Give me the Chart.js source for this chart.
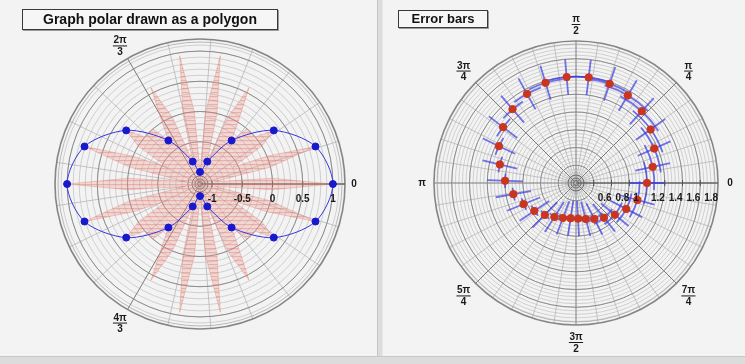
<!DOCTYPE html>
<html><head><meta charset="utf-8">
<script src="https://cdn.jsdelivr.net/npm/chart.js@4/dist/chart.umd.min.js"></script>
<style>
html,body{margin:0;padding:0}
body{width:745px;height:364px;background:#f3f3f3;position:relative;overflow:hidden;font-family:"Liberation Sans",Arial,sans-serif}
#c1{position:absolute;left:0;top:0}
#c2{position:absolute;left:383px;top:0}
#sep{position:absolute;left:377px;top:0;width:6px;height:364px;background:#dcdcdc;box-sizing:border-box;border-left:1px solid #c4c4c4;border-right:1px solid #e6e6e6}
#bot{position:absolute;left:0;top:356px;width:745px;height:8px;background:#dcdcdc;border-top:1px solid #c8c8c8;box-sizing:border-box}
.ttl{position:absolute;box-sizing:border-box;border:1px solid #3a3a3a;background:#f6f6f6;font-weight:bold;color:#111;text-align:center;box-shadow:1px 1px 0 #9a9a9a;white-space:nowrap}
#t1{left:22px;top:9px;width:256px;height:21px;font-size:14px;line-height:19px}
#t2{left:398px;top:10px;width:90px;height:18px;font-size:13px;line-height:16px}
</style></head>
<body>
<canvas id="c1" width="377" height="356"></canvas>
<canvas id="c2" width="362" height="356"></canvas>
<div id="sep"></div><div id="bot"></div>
<div class="ttl" id="t1">Graph polar drawn as a polygon</div>
<div class="ttl" id="t2">Error bars</div>
<script>
// ---------- left pad: polygon ----------
const leftRange = [-1.2, 1.2];
const leftRadialTicks = [-1, -0.5, 0, 0.5, 1];
const leftRadialLabels = ['-1', '-0.5', '0', '0.5', '1'];
const leftAngleLabels = [
  {a: 0, t: '0'},
  {a: 120, n: '2\u03c0', d: '3'},
  {a: 240, n: '4\u03c0', d: '3'}
];
const petalStepDeg = 4.5;
const petalValues = [
  1, 0, -0.95, 0, 0.81, 0, -0.59, 0, 0.31, 0,
  0, 0, -0.31, 0, 0.59, 0, -0.81, 0, 0.95, 0,
  -1, 0, 0.95, 0, -0.81, 0, 0.59, 0, -0.31, 0,
  0, 0, 0.31, 0, -0.59, 0, 0.81, 0, -0.95, 0,
  1, 0, -0.95, 0, 0.81, 0, -0.59, 0, 0.31, 0,
  0, 0, -0.31, 0, 0.59, 0, -0.81, 0, 0.95, 0,
  -1, 0, 0.95, 0, -0.81, 0, 0.59, 0, -0.31, 0,
  0, 0, 0.31, 0, -0.59, 0, 0.81, 0, -0.95, 0
];
const starStepDeg = 18;
const starValues = [1, 0.81, 0.31, -0.31, -0.81, -1, -0.81, -0.31, 0.31, 0.81,
                    1, 0.81, 0.31, -0.31, -0.81, -1, -0.81, -0.31, 0.31, 0.81];

// ---------- right pad: error bars ----------
const rightRange = [0.4, 2.0];
const rightRadialTicks = [0.6, 0.8, 1, 1.2, 1.4, 1.6, 1.8];
const rightRadialLabels = ['0.6', '0.8', '1', '1.2', '1.4', '1.6', '1.8'];
const rightAngleLabels = [
  {a: 0, t: '0'}, {a: 45, n: '\u03c0', d: '4'}, {a: 90, n: '\u03c0', d: '2'},
  {a: 135, n: '3\u03c0', d: '4'}, {a: 180, t: '\u03c0'}, {a: 225, n: '5\u03c0', d: '4'},
  {a: 270, n: '3\u03c0', d: '2'}, {a: 315, n: '7\u03c0', d: '4'}
];
const errTheta = [0, 11.88, 23.76, 35.64, 47.52, 59.4, 71.28, 83.16, 95.04, 106.92,
                  118.8, 130.68, 142.56, 154.44, 166.32, 178.2, 190.08, 201.96, 213.84, 225.72,
                  237.6, 249.48, 261.36, 273.24, 285.12, 297, 308.88, 320.76, 332.64, 344.52];
const errR = [1.2, 1.283, 1.363, 1.435, 1.497, 1.546, 1.58, 1.598, 1.598, 1.58,
              1.546, 1.497, 1.435, 1.363, 1.283, 1.2, 1.117, 1.037, 0.965, 0.903,
              0.854, 0.82, 0.802, 0.802, 0.82, 0.854, 0.903, 0.965, 1.037, 1.117];
const errEx = [0.3, 0.298, 0.291, 0.281, 0.267, 0.25, 0.231, 0.21, 0.19, 0.169,
               0.15, 0.133, 0.119, 0.109, 0.102, 0.1, 0.102, 0.109, 0.119, 0.133,
               0.15, 0.169, 0.19, 0.21, 0.231, 0.25, 0.267, 0.281, 0.291, 0.298];
const errEy = [0.2, 0.2, 0.2, 0.2, 0.2, 0.2, 0.2, 0.2, 0.2, 0.2,
               0.2, 0.2, 0.2, 0.2, 0.2, 0.2, 0.2, 0.2, 0.2, 0.2,
               0.2, 0.2, 0.2, 0.2, 0.2, 0.2, 0.2, 0.2, 0.2, 0.2];

// ---------- helpers ----------
function toXY(thetaDeg, v, range) {
  const u = (v - range[0]) / (range[1] - range[0]);
  const t = thetaDeg * Math.PI / 180;
  return {x: u * Math.cos(t), y: u * Math.sin(t)};
}
function geom(chart) {
  const xs = chart.scales.x, ys = chart.scales.y;
  const cx = xs.getPixelForValue(0), cy = ys.getPixelForValue(0);
  return {cx, cy, R: xs.getPixelForValue(1) - cx, xs, ys};
}
function gridPlugin(cfg) {
  return {
    id: 'polarGrid',
    beforeDatasetsDraw(chart) {
      const {ctx} = chart;
      const {cx, cy, R} = geom(chart);
      const span = cfg.range[1] - cfg.range[0];
      const rp = v => (v - cfg.range[0]) / span * R;
      ctx.save();
      const nMin = Math.round(span / cfg.minor);
      ctx.strokeStyle = '#c6c6c6'; ctx.lineWidth = 0.8;
      for (let k = 1; k < nMin; k++) {
        ctx.beginPath(); ctx.arc(cx, cy, k / nMin * R, 0, 2 * Math.PI); ctx.stroke();
      }
      for (let k = 0; k < cfg.spokes; k++) {
        const a = k * 2 * Math.PI / cfg.spokes;
        const major = k % cfg.majorEvery === 0;
        ctx.strokeStyle = major ? '#7a7a7a' : '#b6b6b6';
        ctx.lineWidth = major ? 1 : 0.8;
        ctx.beginPath(); ctx.moveTo(cx, cy);
        ctx.lineTo(cx + R * Math.cos(a), cy - R * Math.sin(a)); ctx.stroke();
      }
      ctx.strokeStyle = '#8c8c8c'; ctx.lineWidth = 1;
      cfg.ticks.forEach(v => { ctx.beginPath(); ctx.arc(cx, cy, rp(v), 0, 2 * Math.PI); ctx.stroke(); });
      ctx.strokeStyle = '#858585'; ctx.lineWidth = 1.6;
      ctx.beginPath(); ctx.arc(cx, cy, R, 0, 2 * Math.PI); ctx.stroke();
      ctx.strokeStyle = '#a8a8a8'; ctx.lineWidth = 0.8;
      ctx.beginPath(); ctx.arc(cx, cy, R - 3, 0, 2 * Math.PI); ctx.stroke();
      ctx.strokeStyle = '#6a6a6a'; ctx.lineWidth = 1;
      [2.5, 5, 8].forEach(r => { ctx.beginPath(); ctx.arc(cx, cy, r, 0, 2 * Math.PI); ctx.stroke(); });
      ctx.strokeStyle = '#505050'; ctx.lineWidth = 1;
      ctx.beginPath(); ctx.moveTo(cx, cy); ctx.lineTo(cx + R, cy); ctx.stroke();
      cfg.ticks.forEach(v => { const x = cx + rp(v); ctx.beginPath(); ctx.moveTo(x, cy - 3); ctx.lineTo(x, cy + 3); ctx.stroke(); });
      ctx.restore();
    },
    afterDatasetsDraw(chart) {
      const {ctx} = chart;
      const {cx, cy, R} = geom(chart);
      const span = cfg.range[1] - cfg.range[0];
      ctx.save();
      ctx.fillStyle = '#1a1a1a';
      ctx.font = 'bold 10px "Liberation Sans", Arial, sans-serif';
      ctx.textBaseline = 'middle';
      ctx.textAlign = cfg.labelAlign;
      cfg.ticks.forEach((v, i) => {
        ctx.fillText(cfg.tickLabels[i], cx + (v - cfg.range[0]) / span * R + cfg.labelDx, cy + 15);
      });
      ctx.textAlign = 'center';
      ctx.strokeStyle = '#1a1a1a'; ctx.lineWidth = 1;
      cfg.angleLabels.forEach(L => {
        const a = L.a * Math.PI / 180;
        const d = R + (L.t ? cfg.offSingle : cfg.offFrac);
        const x = cx + d * Math.cos(a), y = cy - d * Math.sin(a);
        if (L.t) { ctx.fillText(L.t, x, y); return; }
        const w = Math.max(ctx.measureText(L.n).width, ctx.measureText(L.d).width) + 1;
        ctx.textBaseline = 'alphabetic'; ctx.fillText(L.n, x, y - 2);
        ctx.textBaseline = 'top'; ctx.fillText(L.d, x, y + 2);
        ctx.textBaseline = 'middle';
        ctx.beginPath(); ctx.moveTo(x - w / 2, y + 0.5); ctx.lineTo(x + w / 2, y + 0.5); ctx.stroke();
      });
      ctx.restore();
    }
  };
}
function baseOptions(pad) {
  return {
    responsive: false, animation: false, devicePixelRatio: 1,
    layout: {padding: pad},
    scales: {
      x: {type: 'linear', min: -1, max: 1, display: false},
      y: {type: 'linear', min: -1, max: 1, display: false}
    },
    plugins: {legend: {display: false}, tooltip: {enabled: false}, title: {display: false}}
  };
}
function makeHatch() {
  const c = document.createElement('canvas'); c.width = 4; c.height = 4;
  const g = c.getContext('2d');
  g.fillStyle = 'rgba(238,160,150,0.32)'; g.fillRect(0, 0, 4, 4);
  g.fillStyle = 'rgba(218,110,100,0.38)'; g.fillRect(0, 0, 4, 1.2);
  return g.createPattern(c, 'repeat');
}

// ---------- left chart ----------
const petalPts = petalValues.map((v, i) => toXY(i * petalStepDeg, v, leftRange));
petalPts.push(petalPts[0]);
const starPts = starValues.map((v, i) => toXY(i * starStepDeg, v, leftRange));
const nS = starPts.length;
const starCurve = [starPts[nS - 1], ...starPts, starPts[0], starPts[1]];
const blue = '#3434e0';

new Chart(document.getElementById('c1'), {
  type: 'scatter',
  data: {datasets: [
    {data: starPts, showLine: false, pointRadius: 3.5, pointHoverRadius: 3.5,
     backgroundColor: '#1818cc', borderColor: '#1818cc', order: 0},
    {data: starCurve, showLine: true, pointRadius: 0, borderWidth: 1, tension: 0.3,
     borderColor: blue, order: 1,
     segment: {borderColor: c => (c.p0DataIndex === 0 || c.p1DataIndex === starCurve.length - 1) ? 'rgba(0,0,0,0)' : blue}},
    {data: petalPts, showLine: true, pointRadius: 0, borderWidth: 0.7, tension: 0,
     fill: 'shape', backgroundColor: makeHatch(), borderColor: 'rgba(220,120,110,0.5)', order: 2}
  ]},
  options: baseOptions({left: 55, right: 32, top: 39, bottom: 27}),
  plugins: [gridPlugin({range: leftRange, minor: 0.1, ticks: leftRadialTicks, tickLabels: leftRadialLabels,
    spokes: 21, majorEvery: 7, angleLabels: leftAngleLabels, labelAlign: 'center', labelDx: 0,
    offSingle: 9, offFrac: 15})]
});

// ---------- right chart ----------
const errPts = errR.map((v, i) => toXY(errTheta[i], v, rightRange));
const errorBarPlugin = {
  id: 'polarErrors',
  beforeDatasetsDraw(chart) {
    const {ctx} = chart;
    const {cx, cy, xs, ys} = geom(chart);
    ctx.save();
    ctx.strokeStyle = 'rgba(58,58,228,0.7)'; ctx.lineWidth = 1.8; ctx.lineCap = 'butt';
    errR.forEach((v, i) => {
      const p0 = toXY(errTheta[i], v - errEy[i], rightRange);
      const p1 = toXY(errTheta[i], v + errEy[i], rightRange);
      ctx.beginPath();
      ctx.moveTo(xs.getPixelForValue(p0.x), ys.getPixelForValue(p0.y));
      ctx.lineTo(xs.getPixelForValue(p1.x), ys.getPixelForValue(p1.y));
      ctx.stroke();
      const pm = toXY(errTheta[i], v, rightRange);
      const r = Math.hypot(xs.getPixelForValue(pm.x) - cx, ys.getPixelForValue(pm.y) - cy);
      const t = errTheta[i] * Math.PI / 180;
      ctx.beginPath();
      ctx.arc(cx, cy, r, -(t + errEx[i]), -(t - errEx[i]));
      ctx.stroke();
    });
    ctx.restore();
  }
};
new Chart(document.getElementById('c2'), {
  type: 'scatter',
  data: {datasets: [
    {data: errPts, showLine: false, pointRadius: 3.7, pointHoverRadius: 3.7,
     backgroundColor: '#c9351f', borderColor: '#c9351f'}
  ]},
  options: baseOptions({left: 51, right: 27, top: 41, bottom: 31}),
  plugins: [gridPlugin({range: rightRange, minor: 0.04, ticks: rightRadialTicks, tickLabels: rightRadialLabels,
    spokes: 40, majorEvery: 5, angleLabels: rightAngleLabels, labelAlign: 'left', labelDx: 4,
    offSingle: 12, offFrac: 17}), errorBarPlugin]
});
</script>
</body></html>
